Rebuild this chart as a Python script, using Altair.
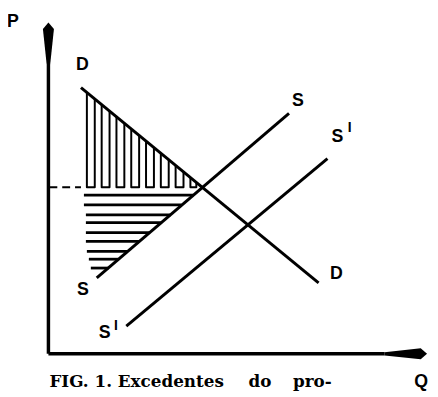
import altair as alt
import pandas as pd

# ---- data (units: horizontal / vertical distance from the origin of the axes) ----
# supply / demand lines: start and end points
line_name = ["D", "S", "S1"]
line_q0 = [33, 49, 79]
line_p0 = [270, 77, 28]
line_q1 = [274, 244, 283]
line_p1 = [72, 244, 198]

# axes shafts
axis_q0 = [0, 0]
axis_p0 = [0, 0]
axis_q1 = [341, 0]
axis_p1 = [0, 293]

# equilibrium price (dashed line)
price_p = 169
dash_q0, dash_q1 = 1, 33

# producer surplus hatching (horizontal lines)
hatch_p = [161, 151, 141, 133, 123, 114, 104, 96, 87]
hatch_q0 = [36, 36, 38, 38, 38, 38, 39, 41, 43]
hatch_q1 = [147, 135, 124, 114, 103, 92, 80, 71, 61]

# consumer surplus hatching (U shaped strips): legs and their tops on D
u_left_q = [39, 54, 69, 84, 99, 114, 129, 144]
u_left_top = [265.1, 252.7, 240.4, 228.1, 215.8, 203.5, 191.1, 178.8]
u_right_q = [47, 62, 77, 92, 107, 122, 137, 150]
u_right_top = [258.5, 246.2, 233.8, 221.5, 209.2, 196.9, 184.6, 173.9]

# labels
label_text = ["P", "D", "S", "S", "D", "S", "S", "Q"]
label_q = [-36, 34.5, 253, 293, 292, 35, 57, 378]
label_p = [336, 292.5, 256, 219.5, 80.5, 65, 21, -29]
prime_q = [305.5, 68.5]
prime_p = [229, 28.5]

caption_text = ["FIG. 1. Excedentes", "do", "pro-"]
caption_q = [1, 203, 248]
caption_p = [-34, -34, -34]

# ---- tables ----
segs = []
for q0, p0, q1, p1 in zip(line_q0, line_p0, line_q1, line_p1):
    segs.append(dict(q=q0, p=p0, q2=q1, p2=p1, w=3))
for q0, p0, q1, p1 in zip(axis_q0, axis_p0, axis_q1, axis_p1):
    segs.append(dict(q=q0, p=p0, q2=q1, p2=p1, w=3.5))
for p, q0, q1 in zip(hatch_p, hatch_q0, hatch_q1):
    segs.append(dict(q=q0, p=p, q2=q1, p2=p, w=2.8))
segs_df = pd.DataFrame(segs)

u_rows = []
for i, (ql, tl, qr, tr) in enumerate(zip(u_left_q, u_left_top, u_right_q, u_right_top)):
    u_rows += [
        dict(u=i, k=0, q=ql, p=tl),
        dict(u=i, k=1, q=ql, p=price_p),
        dict(u=i, k=2, q=qr, p=price_p),
        dict(u=i, k=3, q=qr, p=tr),
    ]
u_df = pd.DataFrame(u_rows)

dash_df = pd.DataFrame(dict(q=[dash_q0], q2=[dash_q1], p=[price_p]))
labels_df = pd.DataFrame(dict(t=label_text, q=label_q, p=label_p))
primes_df = pd.DataFrame(dict(t=["I", "I"], q=prime_q, p=prime_p))
caption_df = pd.DataFrame(dict(t=caption_text, q=caption_q, p=caption_p))
yarrow_df = pd.DataFrame(dict(q=[0], p=[314.5]))
xarrow_df = pd.DataFrame(dict(q=[362.5], p=[0]))

W, H = 428, 387
xs = alt.Scale(domain=[-41, -41 + W], nice=False, zero=False)
ys = alt.Scale(domain=[-39, -39 + H], nice=False, zero=False)
X = alt.X("q:Q", scale=xs, axis=None)
Y = alt.Y("p:Q", scale=ys, axis=None)

rules = alt.Chart(segs_df).mark_rule(color="black", strokeCap="butt").encode(
    x=X, y=Y, x2="q2:Q", y2="p2:Q", size=alt.Size("w:Q", scale=None, legend=None)
)
dash = alt.Chart(dash_df).mark_rule(color="black", strokeWidth=2, strokeDash=[8, 5]).encode(
    x=X, x2="q2:Q", y=Y
)
ushapes = alt.Chart(u_df).mark_line(color="black", strokeWidth=2, strokeJoin="round").encode(
    x=X, y=Y, detail="u:N", order="k:Q"
)
yarrow = alt.Chart(yarrow_df).mark_point(
    shape="M-0.08,1L-0.26,-0.7L0,-1L0.26,-0.7L0.08,1Z",
    size=1849, filled=True, color="black", opacity=1,
).encode(x=X, y=Y)
xarrow = alt.Chart(xarrow_df).mark_point(
    shape="M-1,-0.08L0.7,-0.26L1,0L0.7,0.26L-1,0.08Z",
    size=1849, filled=True, color="black", opacity=1,
).encode(x=X, y=Y)
labels = alt.Chart(labels_df).mark_text(
    font="Liberation Sans", fontWeight="bold", fontSize=18, color="black",
    align="center", baseline="middle",
).encode(x=X, y=Y, text="t:N")
primes = alt.Chart(primes_df).mark_text(
    font="Liberation Sans", fontWeight="bold", fontSize=14, color="black",
    align="center", baseline="middle",
).encode(x=X, y=Y, text="t:N")
caption = alt.Chart(caption_df).mark_text(
    font="DejaVu Serif", fontWeight="bold", fontSize=17, color="black",
    align="left", baseline="alphabetic",
).encode(x=X, y=Y, text="t:N")

chart = alt.layer(rules, dash, ushapes, yarrow, xarrow, labels, primes, caption).properties(
    width=W, height=H, autosize=alt.AutoSizeParams(type="none"), padding=0,
    background="white",
).configure_view(stroke=None)

chart.save("out.html", embed_options={"renderer": "svg", "actions": False})
